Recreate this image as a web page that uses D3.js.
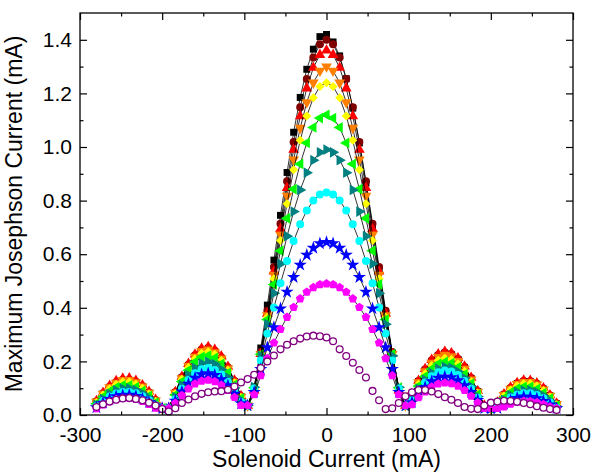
<!DOCTYPE html>
<html>
<head>
<meta charset="utf-8">
<script src="https://cdn.jsdelivr.net/npm/d3@7"></script>
<style>
  body { margin: 0; background: #fff; }
  svg { display: block; }
  text { font-family: "Liberation Sans", Arial, Helvetica, sans-serif; fill: #000; }
</style>
</head>
<body>
<svg id="chart" width="594" height="472"></svg>
<script>
// Solenoid current sweep (mA)
const solenoidCurrent = [
  -280,-272,-264,-256,-248,-240,-232,-224,-216,-208,-200,
  -192,-184,-176,-168,-160,-152,-144,-136,-128,-120,-112,-104,
  -96,-88,-80,-72,-64,-56,-48,-40,-32,-24,-16,-8,0,8,16,24,32,40,48,56,64,72,80,88,96,
  104,112,120,128,136,144,152,160,168,176,184,192,
  200,208,216,224,232,240,248,256,264,272,280
];

// Maximum Josephson current (mA), one array per gate setting
const icBlack = [
  .049,.078,.102,.119,.129,.129,.121,.105,.082,.053,.025,
  .025,.083,.138,.184,.218,.239,.245,.235,.211,.173,.125,.068,
  .035,.105,.250,.410,.578,.745,.905,1.055,1.185,1.290,1.365,1.412,1.42,1.392,1.340,1.255,1.145,1.015,.865,.705,.540,.380,.228,.090,.035,
  .075,.125,.167,.200,.221,.230,.225,.207,.177,.136,.088,.035,
  .025,.045,.075,.099,.116,.124,.124,.114,.096,.071,.042
];
const icDarkRed = [
  .050,.080,.105,.122,.132,.132,.124,.107,.084,.055,.025,
  .025,.085,.141,.188,.223,.244,.250,.240,.215,.177,.127,.070,
  .035,.095,.235,.389,.552,.714,.872,1.019,1.148,1.254,1.334,1.383,1.40,1.383,1.334,1.254,1.148,1.019,.872,.714,.552,.389,.235,.095,.035,
  .076,.127,.170,.203,.224,.233,.228,.209,.179,.138,.089,.035,
  .025,.046,.077,.101,.118,.127,.126,.117,.099,.073,.043
];
const icRed = [
  .052,.083,.109,.127,.136,.137,.128,.111,.087,.057,.025,
  .025,.086,.143,.191,.226,.248,.254,.244,.219,.180,.129,.071,
  .035,.092,.228,.378,.536,.694,.847,.990,1.115,1.219,1.296,1.344,1.36,1.344,1.296,1.219,1.115,.990,.847,.694,.536,.378,.228,.092,.035,
  .077,.128,.172,.206,.227,.236,.231,.212,.181,.139,.090,.036,
  .025,.047,.078,.103,.120,.129,.128,.119,.100,.074,.043
];
const icOrange = [
  .050,.079,.103,.120,.130,.130,.122,.106,.083,.054,.025,
  .025,.083,.137,.183,.217,.238,.244,.234,.210,.173,.124,.068,
  .035,.094,.227,.372,.523,.673,.818,.953,1.071,1.167,1.240,1.284,1.30,1.284,1.240,1.167,1.071,.953,.818,.673,.523,.372,.227,.094,.035,
  .073,.122,.163,.195,.216,.224,.219,.201,.172,.132,.086,.034,
  .025,.045,.074,.098,.115,.123,.123,.113,.095,.071,.041
];
const icYellow = [
  .047,.075,.098,.114,.123,.123,.115,.100,.078,.051,.025,
  .025,.080,.133,.177,.210,.230,.236,.227,.203,.167,.120,.066,
  .035,.096,.225,.365,.508,.651,.788,.915,1.025,1.116,1.184,1.226,1.24,1.226,1.184,1.116,1.025,.915,.788,.651,.508,.365,.225,.096,.035,
  .069,.115,.154,.185,.204,.212,.207,.191,.163,.125,.081,.032,
  .025,.043,.071,.093,.109,.117,.117,.108,.091,.067,.039
];
const icGreen = [
  .042,.068,.088,.103,.111,.111,.104,.090,.071,.046,.025,
  .025,.075,.125,.167,.198,.217,.222,.213,.191,.157,.113,.062,
  .035,.102,.227,.356,.487,.613,.734,.843,.937,1.015,1.073,1.108,1.12,1.108,1.073,1.015,.937,.843,.734,.613,.487,.356,.227,.102,.035,
  .065,.108,.144,.172,.191,.198,.194,.178,.152,.117,.076,.030,
  .025,.038,.063,.084,.098,.105,.105,.097,.082,.061,.035
];
const icTeal = [
  .038,.060,.079,.092,.099,.099,.093,.081,.063,.041,.025,
  .025,.067,.111,.149,.176,.193,.198,.190,.170,.140,.101,.055,
  .035,.104,.221,.339,.454,.564,.667,.759,.840,.904,.951,.980,.99,.980,.951,.904,.840,.759,.667,.564,.454,.339,.221,.104,.035,
  .059,.098,.131,.157,.173,.180,.176,.162,.138,.106,.069,.027,
  .025,.034,.056,.074,.086,.092,.092,.085,.072,.053,.031
];
const icCyan = [
  .033,.052,.069,.080,.086,.086,.081,.070,.055,.036,.025,
  .025,.059,.098,.131,.156,.171,.175,.168,.151,.124,.089,.049,
  .035,.099,.203,.304,.401,.492,.575,.649,.712,.763,.800,.823,.83,.823,.800,.763,.712,.649,.575,.492,.401,.304,.203,.099,.035,
  .054,.090,.121,.145,.160,.166,.162,.149,.127,.098,.064,.025,
  .025,.030,.049,.065,.076,.081,.081,.075,.063,.047,.027
];
const icBlue = [
  .028,.045,.059,.069,.074,.075,.070,.061,.047,.031,.025,
  .025,.053,.087,.116,.138,.151,.155,.149,.133,.110,.079,.043,
  .035,.085,.171,.252,.327,.397,.459,.514,.560,.597,.623,.640,.645,.640,.623,.597,.560,.514,.459,.397,.327,.252,.171,.085,.035,
  .047,.078,.104,.125,.138,.143,.140,.129,.110,.085,.055,.025,
  .025,.025,.041,.054,.063,.068,.067,.062,.052,.039,.025
];
const icMagenta = [
  .024,.038,.050,.058,.062,.063,.059,.051,.040,.026,.025,
  .025,.044,.073,.098,.116,.127,.130,.125,.112,.092,.066,.036,
  .035,.076,.147,.211,.269,.320,.365,.402,.434,.459,.476,.487,.49,.487,.476,.459,.434,.402,.365,.320,.269,.211,.147,.076,.035,
  .039,.065,.087,.105,.116,.120,.117,.108,.092,.071,.046,.025,
  .025,.025,.031,.041,.048,.052,.051,.047,.040,.030,.025
];
const icOpen = [
  .030,.040,.050,.057,.062,.063,.060,.055,.046,.035,.022,
  .013,.025,.045,.058,.070,.079,.085,.088,.089,.094,.106,.121,
  .134,.150,.175,.200,.222,.245,.262,.275,.285,.293,.296,.294,.289,.275,.245,.220,.195,.168,.140,.090,.055,.022,.025,.045,.070,
  .085,.093,.093,.088,.078,.066,.057,.045,.030,.023,.022,.035,
  .046,.050,.053,.052,.049,.045,.040,.033,.027,.022,.019
];

const xMajorTicks = [-300, -200, -100, 0, 100, 200, 300];
const xMinorTicks = [-250, -150, -50, 50, 150, 250];
const yMajorTicks = [0, 0.2, 0.4, 0.6, 0.8, 1.0, 1.2, 1.4];
const yMinorTicks = [0.1, 0.3, 0.5, 0.7, 0.9, 1.1, 1.3];

const xTitle = "Solenoid Current (mA)";
const yTitle = "Maximum Josephson Current (mA)";

// Regular pentagon symbol
const symbolPentagon = {
  draw(ctx, size) {
    const r = Math.sqrt(size / 2.378);
    for (let i = 0; i < 5; i++) {
      const a = -Math.PI / 2 + i * 2 * Math.PI / 5;
      const px = r * Math.cos(a), py = r * Math.sin(a);
      if (i === 0) ctx.moveTo(px, py); else ctx.lineTo(px, py);
    }
    ctx.closePath();
  }
};
const diamond = d3.symbolDiamond2 || d3.symbolDiamond;

const series = [
  { values: icBlack,   color: "#000000", type: d3.symbolSquare,   size: 48, rot: 0 },
  { values: icDarkRed, color: "#800000", type: d3.symbolCircle,   size: 50, rot: 0 },
  { values: icRed,     color: "#ff0000", type: d3.symbolTriangle, size: 50, rot: 0 },
  { values: icOrange,  color: "#ff8000", type: d3.symbolTriangle, size: 50, rot: 180 },
  { values: icYellow,  color: "#ffff00", type: diamond,           size: 52, rot: 0 },
  { values: icGreen,   color: "#00ff00", type: d3.symbolTriangle, size: 50, rot: -90 },
  { values: icTeal,    color: "#008080", type: d3.symbolTriangle, size: 50, rot: 90 },
  { values: icCyan,    color: "#00ffff", type: d3.symbolCircle,   size: 50, rot: 0 },
  { values: icBlue,    color: "#0000ff", type: d3.symbolStar,     size: 55, rot: 0 },
  { values: icMagenta, color: "#ff00ff", type: symbolPentagon,    size: 50, rot: 0 }
];

const svg = d3.select("#chart");
const plotLeft = 80, plotRight = 573, plotTop = 13, plotBottom = 415;

const x = d3.scaleLinear().domain([-300, 300]).range([plotLeft, plotRight]);
const y = d3.scaleLinear().domain([0, 1.5]).range([plotBottom, plotTop]);

const plot = svg.append("g");
const line = d3.line().x((d, i) => x(solenoidCurrent[i])).y(d => y(d));

series.forEach(s => {
  plot.append("path")
    .datum(s.values)
    .attr("d", line)
    .attr("fill", "none")
    .attr("stroke", "#000")
    .attr("stroke-width", 0.8);
  const sym = d3.symbol().type(s.type).size(s.size);
  plot.append("g").selectAll("path")
    .data(s.values)
    .join("path")
    .attr("d", sym)
    .attr("transform", (d, i) => `translate(${x(solenoidCurrent[i])},${y(d)}) rotate(${s.rot})`)
    .attr("fill", s.color);
});

plot.append("g").selectAll("circle")
  .data(icOpen)
  .join("circle")
  .attr("cx", (d, i) => x(solenoidCurrent[i]))
  .attr("cy", d => y(d))
  .attr("r", 3.4)
  .attr("fill", "#fff")
  .attr("stroke", "#800080")
  .attr("stroke-width", 1.3);

// Axes with inward ticks on all four sides
const tickFont = 21, titleFont = 23;
function styleAxis(g) {
  g.select(".domain").remove();
  g.selectAll("line").attr("stroke", "#000").attr("stroke-width", 1.2);
  g.selectAll("text").attr("font-size", tickFont).attr("font-family", '"Liberation Sans", Arial, sans-serif');
}

svg.append("g").attr("transform", `translate(0,${plotBottom})`)
  .call(d3.axisBottom(x).tickValues(xMajorTicks).tickSize(-7).tickPadding(12).tickFormat(d => String(d)))
  .call(styleAxis);
svg.append("g").attr("transform", `translate(0,${plotBottom})`)
  .call(d3.axisBottom(x).tickValues(xMinorTicks).tickSize(-3.5).tickFormat(""))
  .call(styleAxis);
svg.append("g").attr("transform", `translate(0,${plotTop})`)
  .call(d3.axisTop(x).tickValues(xMajorTicks).tickSize(-7).tickFormat(""))
  .call(styleAxis);
svg.append("g").attr("transform", `translate(0,${plotTop})`)
  .call(d3.axisTop(x).tickValues(xMinorTicks).tickSize(-3.5).tickFormat(""))
  .call(styleAxis);

svg.append("g").attr("transform", `translate(${plotLeft},0)`)
  .call(d3.axisLeft(y).tickValues(yMajorTicks).tickSize(-7).tickPadding(8).tickFormat(d => d.toFixed(1)))
  .call(styleAxis);
svg.append("g").attr("transform", `translate(${plotLeft},0)`)
  .call(d3.axisLeft(y).tickValues(yMinorTicks).tickSize(-3.5).tickFormat(""))
  .call(styleAxis);
svg.append("g").attr("transform", `translate(${plotRight},0)`)
  .call(d3.axisRight(y).tickValues(yMajorTicks).tickSize(-7).tickFormat(""))
  .call(styleAxis);
svg.append("g").attr("transform", `translate(${plotRight},0)`)
  .call(d3.axisRight(y).tickValues(yMinorTicks).tickSize(-3.5).tickFormat(""))
  .call(styleAxis);

// Frame
svg.append("rect")
  .attr("x", plotLeft).attr("y", plotTop)
  .attr("width", plotRight - plotLeft).attr("height", plotBottom - plotTop)
  .attr("fill", "none").attr("stroke", "#000").attr("stroke-width", 1.3);

// Axis titles
svg.append("text")
  .attr("x", (plotLeft + plotRight) / 2).attr("y", 467)
  .attr("text-anchor", "middle")
  .attr("font-size", titleFont)
  .text(xTitle);
svg.append("text")
  .attr("transform", `translate(22,${(plotTop + plotBottom) / 2}) rotate(-90)`)
  .attr("text-anchor", "middle")
  .attr("font-size", titleFont)
  .text(yTitle);
</script>
</body>
</html>
